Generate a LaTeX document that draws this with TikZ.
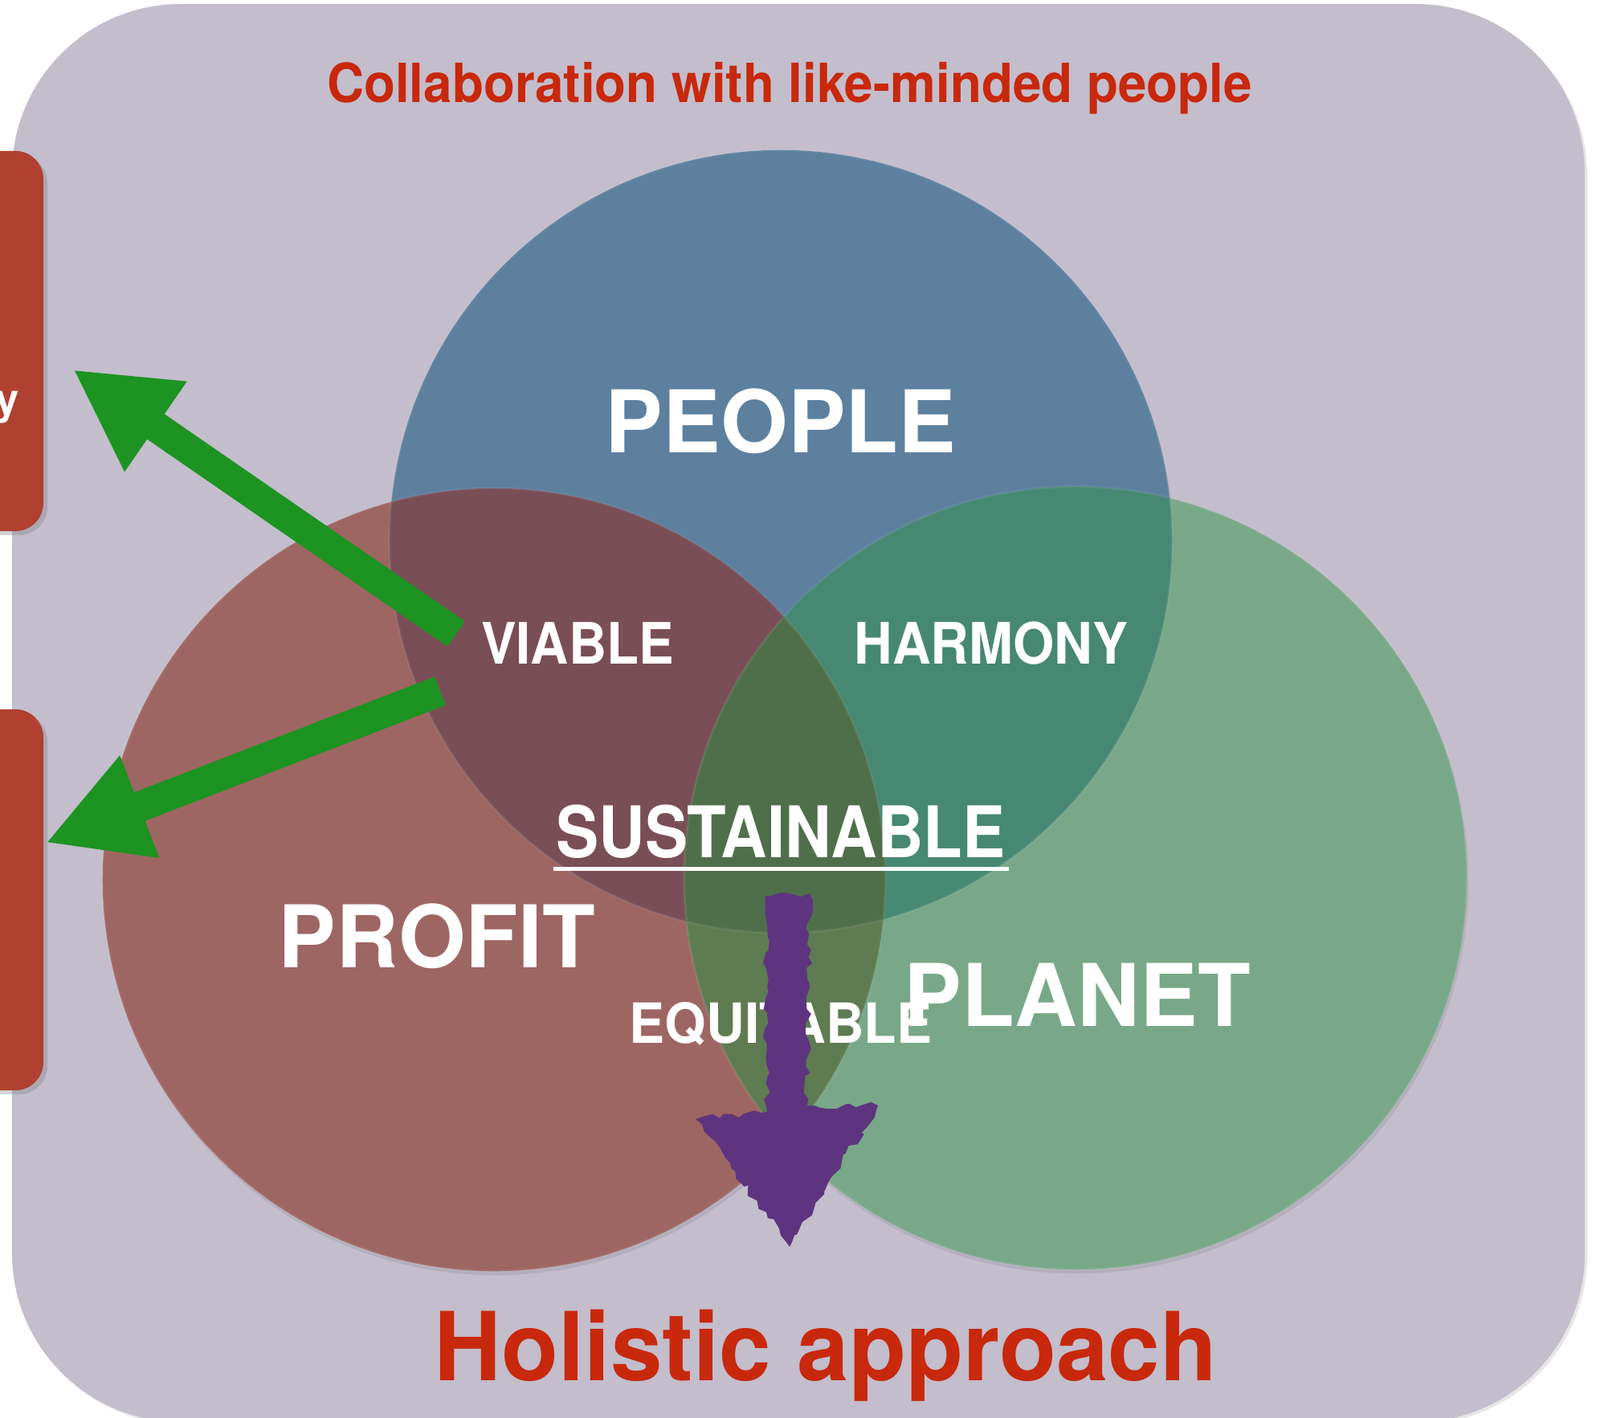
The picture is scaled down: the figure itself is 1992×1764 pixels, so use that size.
\documentclass[tikz,border=0pt]{standalone}
\usepackage{fontspec}
\setmainfont{TeX Gyre Heros}
\usetikzlibrary{arrows.meta,shadows,decorations.pathmorphing,calc}

\definecolor{bgl}{HTML}{C3BDCC}
\definecolor{boxred}{HTML}{B04030}
\definecolor{titlered}{HTML}{C8280C}
\definecolor{cblue}{HTML}{5D809F}
\definecolor{cred}{HTML}{9E6662}
\definecolor{cgreen}{HTML}{78A888}
\definecolor{cbr}{HTML}{7A4E56}
\definecolor{cbg}{HTML}{468872}
\definecolor{crg}{HTML}{5F7B51}
\definecolor{call}{HTML}{4F6F4A}
\definecolor{agreen}{HTML}{1D9322}
\definecolor{apurple}{HTML}{5E3480}

\begin{document}
\begin{tikzpicture}[x=0.01cm,y=-0.01cm,
  redbox/.style={fill=boxred,rounded corners=0.35cm,inner sep=0,minimum width=1.14cm,
    drop shadow={shadow xshift=0.05cm,shadow yshift=-0.05cm,opacity=0.35}},
  bigword/.style={text=white,font=\bfseries\fontsize{30.6}{32}\selectfont,inner sep=0,anchor=base},
  midword/.style={text=white,font=\bfseries\fontsize{20.2}{22}\selectfont,inner sep=0,anchor=base},
  sustword/.style={text=white,font=\bfseries\fontsize{25.2}{27}\selectfont,inner sep=0,anchor=base},
  eqword/.style={text=white,font=\bfseries\fontsize{19.6}{21}\selectfont,inner sep=0,anchor=base},
  titleword/.style={text=titlered,font=\bfseries\fontsize{19.1}{21}\selectfont,inner sep=0,anchor=base},
  holword/.style={text=titlered,font=\bfseries\fontsize{33.7}{36}\selectfont,inner sep=0,anchor=base},
  greenarrow/.style={agreen,line width=0.38cm,-{Triangle[width=1.27cm,length=1.25cm]}},
  circshadow/.style={black,opacity=0.08}
]
\useasboundingbox (0,0) rectangle (1992,1764);
\clip (0,0) rectangle (1992,1764);

% background panel
\fill[bgl,rounded corners=2.1cm,drop shadow={shadow xshift=0.03cm,shadow yshift=-0.03cm,opacity=0.2}]
  (15,5) rectangle (1973,1770);

% left red boxes
\node[redbox,minimum height=4.73cm] (box1) at (-3,424.5) {};
\node[redbox,minimum height=4.74cm] (box2) at (-3,1120) {};
\node[text=white,font=\bfseries\fontsize{15}{16}\selectfont,inner sep=0,anchor=base east] (ytext) at (25,515) {y};

% circle centres
\coordinate (cP) at (972,674);
\coordinate (cR) at (615,1095);
\coordinate (cG) at (1339,1093);

% soft shadow
\fill[circshadow] ([shift={(2,5)}]cP) circle (4.87cm) ([shift={(2,5)}]cR) circle (4.87cm) ([shift={(2,5)}]cG) circle (4.87cm);

% circles and overlaps
\fill[cred] (cR) circle (4.87cm);
\fill[cgreen] (cG) circle (4.87cm);
\fill[cblue] (cP) circle (4.87cm);
\begin{scope}
  \clip (cP) circle (4.87cm);
  \fill[cbr] (cR) circle (4.87cm);
  \fill[cbg] (cG) circle (4.87cm);
\end{scope}
\begin{scope}
  \clip (cR) circle (4.87cm);
  \fill[crg] (cG) circle (4.87cm);
  \clip (cP) circle (4.87cm);
  \fill[call] (cG) circle (4.87cm);
\end{scope}
\draw[white,opacity=0.07,line width=0.03cm] (cP) circle (4.87cm) (cR) circle (4.87cm) (cG) circle (4.87cm);

% title
\node[titleword] (title) at (983,128) {\scalebox{0.95}[1]{Collaboration with like-minded people}};

% big words
\node[bigword] (people) at (972,563) {PEOPLE};
\node[bigword] (profit) at (544,1204) {PROFIT};
\node[bigword] (planet) at (1341,1277) {PLANET};

% overlap words
\node[midword] (viable) at (719,826) {\scalebox{0.92}[1]{VIABLE}};
\node[midword] (harmony) at (1234,826) {\scalebox{0.93}[1]{HARMONY}};
\node[sustword] (sust) at (972,1067) {\scalebox{0.9}[1]{SUSTAINABLE}};
\draw[white,line width=0.05cm] ([xshift=-0.03cm,yshift=-0.14cm]sust.base west) -- ([xshift=0.03cm,yshift=-0.14cm]sust.base east);
\node[eqword] (equit) at (972,1298) {\scalebox{0.96}[1]{EQUITABLE}};

% bottom text
\node[holword] (holistic) at (1028,1718) {\scalebox{0.98}[1]{Holistic approach}};

% green arrows
\coordinate (g1tail) at (568,789);
\coordinate (g1tip) at (91,460);
\coordinate (g2tail) at (548,860);
\coordinate (g2tip) at (57,1049);
\draw[greenarrow] (g1tail) -- (g1tip);
\draw[greenarrow] (g2tail) -- (g2tip);

% purple hand-drawn arrow
\fill[apurple,decorate,decoration={random steps,segment length=2.5pt,amplitude=1.3pt}]
  (953,1115) -- (1008,1112) -- (1005,1376) -- (1093,1376) -- (983,1552) -- (866,1393) -- (955,1384) -- cycle;
\end{tikzpicture}
\end{document}
